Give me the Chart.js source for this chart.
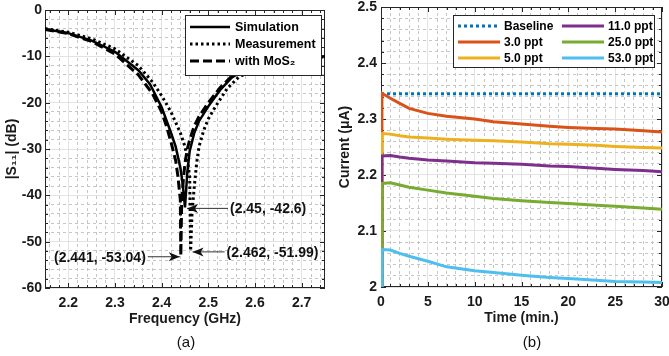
<!DOCTYPE html>
<html>
<head>
<meta charset="utf-8">
<script src="https://cdn.jsdelivr.net/npm/chart.js@4.4.1/dist/chart.umd.min.js"></script>
<style>
  body { margin: 0; background: #fff; font-family: "Liberation Sans", Arial, sans-serif; }
  #quadro { position: relative; width: 669px; height: 356px; }
  .caixa { position: absolute; top: 0; height: 356px; }
  .rotulo { position: absolute; top: 333px; font-size: 15px; color: #111; transform: translateX(-50%); }
</style>
</head>
<body>
<div id="quadro">
  <div class="caixa" style="left:0;width:334px"><canvas id="graficoA" width="334" height="356"></canvas></div>
  <div class="caixa" style="left:334px;width:335px"><canvas id="graficoB" width="335" height="356"></canvas></div>
  <div class="rotulo" style="left:186px">(a)</div>
  <div class="rotulo" style="left:532px">(b)</div>
</div>
<script>
// (a) |S11| x frequencia
const freqSim = [2.15, 2.2, 2.25, 2.3, 2.35, 2.375, 2.4, 2.42, 2.43, 2.44, 2.445, 2.45, 2.455, 2.46, 2.47, 2.48, 2.5, 2.525, 2.55, 2.575, 2.6, 2.65, 2.7, 2.75];
const s11Sim = [-4.1, -5.0, -6.6, -9.0, -13.0, -16.0, -21.0, -26.5, -29.5, -34.0, -37.5, -42.6, -35.0, -30.5, -26.5, -24.0, -20.8, -17.3, -14.6, -13.0, -12.2, -11.2, -10.5, -10.0];
const freqMed = [2.15, 2.2, 2.25, 2.3, 2.35, 2.38, 2.4, 2.42, 2.44, 2.45, 2.455, 2.46, 2.462, 2.465, 2.47, 2.475, 2.48, 2.49, 2.5, 2.515, 2.54, 2.565, 2.6, 2.65, 2.7, 2.75];
const s11Med = [-4.0, -4.8, -6.2, -8.4, -12.0, -15.5, -18.5, -22.0, -26.5, -29.5, -32.0, -36.0, -51.99, -44.0, -38.0, -33.0, -29.5, -26.0, -23.5, -20.9, -17.0, -14.5, -12.8, -11.4, -10.6, -10.1];
const freqMos = [2.15, 2.2, 2.25, 2.3, 2.35, 2.38, 2.4, 2.41, 2.42, 2.43, 2.435, 2.44, 2.441, 2.443, 2.447, 2.45, 2.455, 2.46, 2.47, 2.48, 2.5, 2.525, 2.55, 2.575, 2.6, 2.65, 2.7, 2.75];
const s11Mos = [-4.2, -5.1, -6.8, -9.5, -14.0, -18.0, -22.0, -25.0, -28.5, -32.5, -36.0, -41.0, -53.04, -41.0, -36.0, -33.0, -30.0, -28.0, -25.0, -23.0, -20.0, -16.8, -14.3, -12.8, -12.0, -11.0, -10.4, -10.0];
const minFreq = [2.45, 2.441, 2.462];
const minS11 = [-42.6, -53.04, -51.99];
const ticksFreq = [2.2, 2.3, 2.4, 2.5, 2.6, 2.7];
const ticksS11 = [-60, -50, -40, -30, -20, -10, 0];

// (b) corrente x tempo
const tempo = [0, 0.1, 1, 2, 3, 5, 7, 10, 12, 15, 18, 20, 23, 25, 28, 30];
const tempoBase = [0, 30];
const baseline = [2.345, 2.345];
const ppt3 = [2.0, 2.346, 2.337, 2.328, 2.319, 2.310, 2.305, 2.300, 2.295, 2.291, 2.287, 2.285, 2.283, 2.282, 2.279, 2.277];
const ppt5 = [2.0, 2.274, 2.273, 2.270, 2.268, 2.266, 2.264, 2.262, 2.261, 2.259, 2.256, 2.255, 2.253, 2.251, 2.249, 2.248];
const ppt11 = [2.0, 2.234, 2.235, 2.232, 2.230, 2.227, 2.225, 2.222, 2.221, 2.219, 2.216, 2.215, 2.212, 2.210, 2.208, 2.206];
const ppt25 = [2.0, 2.185, 2.186, 2.182, 2.178, 2.173, 2.168, 2.162, 2.158, 2.154, 2.151, 2.149, 2.146, 2.144, 2.141, 2.139];
const ppt53 = [2.0, 2.067, 2.066, 2.060, 2.055, 2.046, 2.036, 2.029, 2.026, 2.021, 2.017, 2.015, 2.012, 2.010, 2.009, 2.008];
const ticksTempo = [0, 5, 10, 15, 20, 25, 30];
const ticksCorrente = [2, 2.1, 2.2, 2.3, 2.4, 2.5];

const fonte = '"Liberation Sans", Arial, sans-serif';
Chart.defaults.font.family = fonte;
Chart.defaults.color = '#1a1a1a';

function pontos(xs, ys) {
  return xs.map((x, i) => ({ x: x, y: ys[i] }));
}

// ticks menores a cada "passo", maiores nos valores da lista
function montarTicks(maiores, passo, min, max) {
  return function (escala) {
    const lista = [];
    const n0 = Math.ceil(min / passo - 1e-6);
    const n1 = Math.floor(max / passo + 1e-6);
    for (let k = n0; k <= n1; k++) {
      const v = +(k * passo).toFixed(6);
      lista.push({ value: v, major: maiores.some(m => Math.abs(m - v) < 1e-6) });
    }
    escala.ticks = lista;
  };
}

function eixo(min, max, maiores, passo, titulo, extra) {
  return Object.assign({
    type: 'linear',
    min: min,
    max: max,
    afterBuildTicks: montarTicks(maiores, passo, min, max),
    ticks: {
      autoSkip: false,
      maxRotation: 0,
      font: { size: 14, weight: 'bold' },
      callback: (v, i, t) => t[i].major ? String(v) : ''
    },
    grid: {
      drawTicks: false,
      color: c => (c.tick && c.tick.major) ? '#e3e3e3' : '#c6c6c6',
      lineWidth: 1
    },
    border: {
      display: false,
      dash: c => (c.tick && !c.tick.major) ? [3, 3] : []
    },
    title: { display: true, text: titulo, font: { size: 14, weight: 'bold' } }
  }, extra);
}

// moldura do eixo com ticks para dentro
const moldura = {
  id: 'moldura',
  beforeDatasetsDraw(chart) {
    const { ctx, chartArea: a, scales: { x, y } } = chart;
    ctx.save();
    ctx.strokeStyle = '#262626';
    ctx.lineWidth = 1;
    ctx.beginPath();
    x.ticks.forEach(t => {
      const px = Math.round(x.getPixelForValue(t.value)) + 0.5;
      const n = t.major ? 5 : 3;
      ctx.moveTo(px, a.bottom); ctx.lineTo(px, a.bottom - n);
      ctx.moveTo(px, a.top); ctx.lineTo(px, a.top + n);
    });
    y.ticks.forEach(t => {
      const py = Math.round(y.getPixelForValue(t.value)) + 0.5;
      const n = t.major ? 5 : 3;
      ctx.moveTo(a.left, py); ctx.lineTo(a.left + n, py);
      ctx.moveTo(a.right, py); ctx.lineTo(a.right - n, py);
    });
    ctx.stroke();
    ctx.strokeRect(Math.round(a.left) + 0.5, Math.round(a.top) + 0.5, Math.round(a.width) - 1, Math.round(a.height) - 1);
    ctx.restore();
  }
};

// legenda em caixa dentro da area
const legendaCaixa = {
  id: 'legendaCaixa',
  afterDatasetsDraw(chart, args, o) {
    const { ctx, chartArea: a } = chart;
    const x0 = Math.round(a.right - o.right - o.width);
    const y0 = Math.round(a.top + o.top);
    ctx.save();
    ctx.fillStyle = '#fff';
    ctx.fillRect(x0, y0, o.width, o.height);
    ctx.strokeStyle = '#262626';
    ctx.lineWidth = 1;
    ctx.strokeRect(x0 + 0.5, y0 + 0.5, o.width - 1, o.height - 1);
    ctx.font = 'bold ' + o.size + 'px ' + fonte;
    ctx.textBaseline = 'middle';
    chart.data.datasets.forEach((ds, i) => {
      const col = Math.floor(i / o.linhas), lin = i % o.linhas;
      const lx = x0 + o.colX[col], ly = y0 + o.y0 + lin * o.dy;
      ctx.save();
      ctx.strokeStyle = ds.borderColor;
      ctx.lineWidth = ds.borderWidth;
      ctx.setLineDash(ds.borderDash || []);
      ctx.beginPath();
      ctx.moveTo(lx, ly); ctx.lineTo(lx + o.comp, ly);
      ctx.stroke();
      ctx.restore();
      ctx.fillStyle = '#000';
      ctx.fillText(ds.label, lx + o.comp + o.gap, ly + 1);
    });
    ctx.restore();
  }
};

// setas com as coordenadas dos minimos
const setas = {
  id: 'setas',
  afterDatasetsDraw(chart, args, o) {
    const { ctx, scales: { x, y } } = chart;
    ctx.save();
    ctx.font = 'bold 14px ' + fonte;
    ctx.textBaseline = 'middle';
    minFreq.forEach((f, i) => {
      const px = x.getPixelForValue(f), py = y.getPixelForValue(minS11[i]) + 1;
      const lado = o.lados[i];
      const ponta = px + lado * o.ponta[i], cauda = px + lado * o.cauda[i];
      ctx.strokeStyle = '#333';
      ctx.fillStyle = '#111';
      ctx.lineWidth = 1;
      ctx.beginPath();
      ctx.moveTo(cauda, py); ctx.lineTo(ponta, py);
      ctx.stroke();
      ctx.beginPath();
      ctx.moveTo(ponta, py);
      ctx.lineTo(ponta + lado * 11, py - 4.5);
      ctx.lineTo(ponta + lado * 8, py);
      ctx.lineTo(ponta + lado * 11, py + 4.5);
      ctx.closePath();
      ctx.fill();
      ctx.textAlign = lado > 0 ? 'left' : 'right';
      ctx.fillText('(' + f + ', ' + minS11[i] + ')', cauda + lado * 2, py + 1);
    });
    ctx.restore();
  }
};

const ctxA = document.getElementById('graficoA').getContext('2d');
const graficoA = new Chart(ctxA, {
  type: 'line',
  data: {
    datasets: [
      { label: 'Simulation', data: pontos(freqSim, s11Sim), borderColor: '#000', borderWidth: 2.5, borderDash: [] },
      { label: 'Measurement', data: pontos(freqMed, s11Med), borderColor: '#000', borderWidth: 3, borderDash: [2.5, 3] },
      { label: 'with MoS\u2082', data: pontos(freqMos, s11Mos), borderColor: '#000', borderWidth: 3, borderDash: [9, 4] }
    ]
  },
  options: {
    responsive: false,
    animation: false,
    devicePixelRatio: 1,
    elements: { point: { radius: 0 }, line: { tension: 0 } },
    layout: { padding: { left: 0, right: 9, top: 10, bottom: 28 } },
    scales: {
      x: eixo(2.15, 2.75, ticksFreq, 0.02, 'Frequency (GHz)', {
        afterFit: s => { s.height = 40; s.paddingLeft = 0; s.paddingRight = 0; }
      }),
      y: eixo(-60, 0, ticksS11, 2, '|S\u2081\u2081| (dB)', {
        afterFit: s => { s.width = 45; s.paddingTop = 0; s.paddingBottom = 0; }
      })
    },
    plugins: {
      legend: { display: false },
      tooltip: { enabled: false },
      legendaCaixa: { right: 3, top: 5, width: 137, height: 61, linhas: 3, colX: [5], y0: 12, dy: 17, comp: 40, gap: 5, size: 12.5 },
      setas: { lados: [1, -1, 1], ponta: [2, 1, 2], cauda: [43, 33, 34] }
    }
  },
  plugins: [moldura, legendaCaixa, setas]
});
graficoA.options.scales.x.ticks.padding = 7;
graficoA.options.scales.y.ticks.padding = 3;
graficoA.options.scales.x.title.padding = { top: 0, bottom: 0 };
graficoA.options.scales.y.title.padding = { top: 4, bottom: 0 };
graficoA.update();

const ctxB = document.getElementById('graficoB').getContext('2d');
const graficoB = new Chart(ctxB, {
  type: 'line',
  data: {
    datasets: [
      { label: 'Baseline', data: pontos(tempoBase, baseline), borderColor: '#0072BD', borderWidth: 3, borderDash: [3, 3], order: 6 },
      { label: '3.0 ppt', data: pontos(tempo, ppt3), borderColor: '#D95319', borderWidth: 3, order: 5 },
      { label: '5.0 ppt', data: pontos(tempo, ppt5), borderColor: '#EDB120', borderWidth: 3, order: 4 },
      { label: '11.0 ppt', data: pontos(tempo, ppt11), borderColor: '#7E2F8E', borderWidth: 3, order: 3 },
      { label: '25.0 ppt', data: pontos(tempo, ppt25), borderColor: '#77AC30', borderWidth: 3, order: 2 },
      { label: '53.0 ppt', data: pontos(tempo, ppt53), borderColor: '#4DBEEE', borderWidth: 3, order: 1 }
    ]
  },
  options: {
    responsive: false,
    animation: false,
    devicePixelRatio: 1,
    elements: { point: { radius: 0 }, line: { tension: 0 } },
    layout: { padding: { left: 0, right: 7, top: 7, bottom: 29 } },
    scales: {
      x: eixo(0, 30, ticksTempo, 1, 'Time (min.)', {
        afterFit: s => { s.height = 40; s.paddingLeft = 0; s.paddingRight = 0; }
      }),
      y: eixo(2, 2.5, ticksCorrente, 0.02, 'Current (\u03bcA)', {
        afterFit: s => { s.width = 47; s.paddingTop = 0; s.paddingBottom = 0; }
      })
    },
    plugins: {
      legend: { display: false },
      tooltip: { enabled: false },
      legendaCaixa: { right: 7, top: 8, width: 202, height: 53, linhas: 3, colX: [5, 109], y0: 11, dy: 16, comp: 42, gap: 4, size: 12 }
    }
  },
  plugins: [moldura, legendaCaixa]
});
graficoB.options.scales.x.ticks.padding = 7;
graficoB.options.scales.y.ticks.padding = 4;
graficoB.options.scales.x.title.padding = { top: 0, bottom: 0 };
graficoB.options.scales.y.title.padding = { top: 3, bottom: 0 };
graficoB.update();
</script>
</body>
</html>
